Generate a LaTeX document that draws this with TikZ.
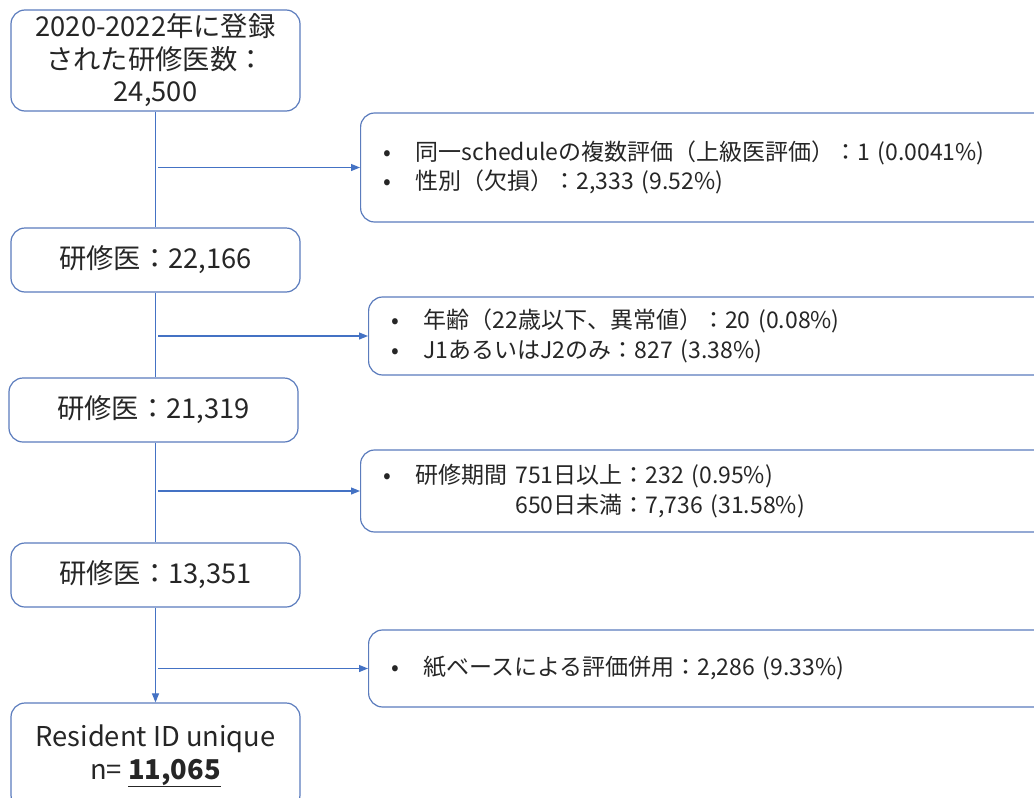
\documentclass[tikz,border=0pt]{standalone}
\usepackage{fontspec}
\setmainfont{Noto Sans CJK JP}
\usetikzlibrary{arrows.meta}
\definecolor{bl}{HTML}{4472C4}
\definecolor{bx}{HTML}{5B7CBD}
\definecolor{tx}{HTML}{262626}
\begin{document}
\begin{tikzpicture}[x=1pt,y=-1pt,
  mainbox/.style={draw=bx, line width=1.2pt, rounded corners=14pt, minimum width=289pt,
    text=tx, font=\fontsize{27.3}{32.5}\selectfont, align=center, inner sep=0pt},
  sidebox/.style={draw=bx, line width=1.2pt, rounded corners=14pt, anchor=west,
    text=tx, font=\fontsize{23}{29.5}\selectfont, align=left, inner xsep=23pt, inner ysep=0pt, text width=654pt},
  flow/.style={draw=bl, line width=1.1pt},
  arr/.style={flow, -{Triangle[length=9pt,width=7pt]}}]
\useasboundingbox (0,0) rectangle (1034,798);
\clip (0,0) rectangle (1034,798);
\fill[white] (0,0) rectangle (1034,798);

\node[mainbox, minimum height=101pt] (b1) at (155.5,60.5) {2020-2022年に登録\\された研修医数：\\24,500};
\node[mainbox, minimum height=64pt] (b2) at (155.5,260) {研修医：22,166};
\node[mainbox, minimum height=64pt] (b3) at (153.5,410) {研修医：21,319};
\node[mainbox, minimum height=64pt] (b4) at (155.5,575) {研修医：13,351};
\node[mainbox, minimum height=106pt] (b5) at (155.5,756) {Resident ID unique\\n= \underline{\textbf{11,065}}};

\node[sidebox, minimum height=109pt] (r1) at (360,167.5)
  {\makebox[32pt][l]{•}同一scheduleの複数評価（上級医評価）：1 (0.0041\%)\\
   \makebox[32pt][l]{•}性別（欠損）：2,333 (9.52\%)};
\node[sidebox, minimum height=78pt] (r2) at (368,336)
  {\makebox[32pt][l]{•}年齢（22歳以下、異常値）：20 (0.08\%)\\
   \makebox[32pt][l]{•}J1あるいはJ2のみ：827 (3.38\%)};
\node[sidebox, minimum height=82pt] (r3) at (360,491)
  {\makebox[32pt][l]{•}研修期間 751日以上：232 (0.95\%)\\
   \makebox[32pt][l]{}\phantom{研修期間 }650日未満：7,736 (31.58\%)};
\node[sidebox, minimum height=77pt] (r4) at (368,668.5)
  {\makebox[32pt][l]{•}紙ベースによる評価併用：2,286 (9.33\%)};

\coordinate (c1) at (158,167.5);
\coordinate (c2) at (158,336);
\coordinate (c3) at (158,491);
\coordinate (c4) at (158,668.5);

\draw[flow] (b1.south) -- (b2.north);
\draw[flow] (b2.south) -- (b2.south |- b3.north);
\draw[flow] (b3.south -| b4.north) -- (b4.north);
\draw[arr] (b4.south) -- (b5.north);

\draw[arr] (c1) -- (r1.west);
\draw[arr] (c2) -- (r2.west);
\draw[arr] (c3) -- (r3.west);
\draw[arr] (c4) -- (r4.west);
\end{tikzpicture}
\end{document}
